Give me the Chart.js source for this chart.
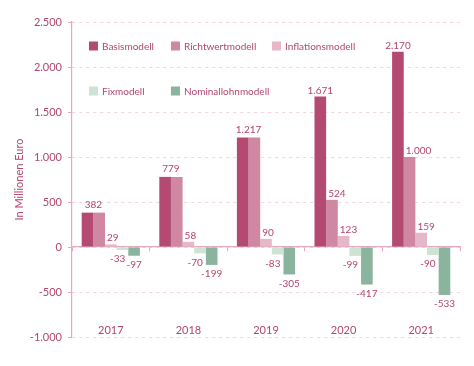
<!DOCTYPE html>
<html>
<head>
<meta charset="utf-8">
<script src="https://cdn.jsdelivr.net/npm/chart.js@4.4.1/dist/chart.umd.min.js"></script>
<style>
  html, body { margin: 0; padding: 0; background: #ffffff; }
  #wrap { width: 474px; height: 366px; position: relative; }
</style>
</head>
<body>
<div id="wrap"><canvas id="c" width="474" height="366"></canvas></div>
<script>
const categories = ['2017', '2018', '2019', '2020', '2021'];
const seriesNames = ['Basismodell', 'Richtwertmodell', 'Inflationsmodell', 'Fixmodell', 'Nominallohnmodell'];
const basismodell = [382, 779, 1217, 1671, 2170];
const richtwertmodell = [382, 779, 1217, 524, 1000];
const inflationsmodell = [29, 58, 90, 123, 159];
const fixmodell = [-33, -70, -83, -99, -90];
const nominallohnmodell = [-97, -199, -305, -417, -533];
const yTicks = [-1000, -500, 0, 500, 1000, 1500, 2000, 2500];

const seriesColors = ['#b44a72', '#d088a2', '#e6b7c8', '#cde3d6', '#8bb49e'];
const textColor = '#b2466f';
const axisColor = '#e4a9bd';
const gridColor = '#f3d3de';
const FONT = 'Lato, "Open Sans", sans-serif';

function fmt(v) {
  const neg = v < 0;
  let s = String(Math.abs(Math.round(v)));
  s = s.replace(/\B(?=(\d{3})+(?!\d))/g, '.');
  return (neg ? '-' : '') + s;
}

const seriesValues = [basismodell, richtwertmodell, inflationsmodell, fixmodell, nominallohnmodell];

const datasets = seriesNames.map((name, i) => ({
  label: name,
  data: seriesValues[i],
  backgroundColor: seriesColors[i],
  borderWidth: 0,
  xAxisID: 'x',
  yAxisID: 'y',
  categoryPercentage: 0.75,
  barPercentage: 1.0
}));

const valueLabels = {
  id: 'valueLabels',
  afterDatasetsDraw(chart) {
    const ctx = chart.ctx;
    ctx.save();
    ctx.font = '10px ' + FONT;
    ctx.fillStyle = textColor;
    chart.data.datasets.forEach((ds, di) => {
      const meta = chart.getDatasetMeta(di);
      meta.data.forEach((bar, j) => {
        const v = ds.data[j];
        const half = bar.width / 2;
        // Basis & Richtwert equal -> single label centered over both
        if (di === 1 && chart.data.datasets[0].data[j] === v) return;
        let x = bar.x;
        let lift = 3;
        ctx.textAlign = 'center';
        if (di === 0 && chart.data.datasets[1].data[j] === v) {
          x = (bar.x + chart.getDatasetMeta(1).data[j].x) / 2;
          lift = 4.5;
        } else if (v >= 0 && (di === 1 || di === 2)) {
          ctx.textAlign = 'left';
          x = bar.x - half + 2;
        } else if (v < 0 && di === 3) {
          ctx.textAlign = 'right';
          x = bar.x + half - 3;
        }
        if (v >= 0) {
          ctx.textBaseline = 'alphabetic';
          ctx.fillText(fmt(v), x, bar.y - lift);
        } else {
          ctx.textBaseline = 'top';
          ctx.fillText(fmt(v), x, bar.y + 4);
        }
      });
    });
    ctx.restore();
  }
};

const customLegend = {
  id: 'customLegend',
  afterDraw(chart) {
    const ctx = chart.ctx;
    const a = chart.chartArea;
    const pos = [
      [17, 24], [99, 24], [200, 24],
      [17, 69], [99, 69]
    ];
    ctx.save();
    ctx.font = '10px ' + FONT;
    ctx.textBaseline = 'middle';
    ctx.textAlign = 'left';
    chart.data.datasets.forEach((ds, i) => {
      const x = a.left + pos[i][0];
      const y = a.top + pos[i][1];
      ctx.fillStyle = ds.backgroundColor;
      ctx.fillRect(x, y - 4.5, 9, 9);
      ctx.fillStyle = textColor;
      ctx.fillText(ds.label, x + 13, y + 0.5);
    });
    ctx.restore();
  }
};

new Chart(document.getElementById('c'), {
  type: 'bar',
  data: { labels: categories, datasets: datasets },
  plugins: [valueLabels, customLegend],
  options: {
    responsive: false,
    animation: false,
    devicePixelRatio: 1,
    layout: { padding: { left: 0, right: 14, top: 22, bottom: 29 } },
    plugins: {
      legend: { display: false },
      tooltip: { enabled: false }
    },
    scales: {
      x: {
        type: 'category',
        position: { y: -770 },
        grid: { display: false },
        border: { display: false },
        ticks: { color: textColor, font: { family: FONT, size: 11 }, padding: 0 }
      },
      xz: {
        type: 'category',
        position: { y: 0 },
        offset: true,
        grid: { display: true, offset: true, drawOnChartArea: false, drawTicks: true, tickLength: 4, color: axisColor, lineWidth: 1 },
        border: { display: true, color: axisColor, width: 1.2 },
        ticks: { display: false }
      },
      y: {
        type: 'linear',
        min: -1000,
        max: 2500,
        afterFit(scale) { scale.width = 72; },
        afterBuildTicks(scale) { scale.ticks = yTicks.map(v => ({ value: v })); },
        ticks: {
          color: textColor,
          font: { family: FONT, size: 11 },
          padding: 6,
          callback: (v) => fmt(v)
        },
        grid: {
          color: gridColor,
          lineWidth: 1,
          drawTicks: true,
          tickLength: 4,
          tickColor: axisColor,
          tickBorderDash: []
        },
        border: { display: true, color: axisColor, width: 1.2, dash: [3, 4] },
        title: {
          display: true,
          text: 'In Millionen Euro',
          color: textColor,
          font: { family: FONT, size: 11 },
          padding: { top: 13, bottom: 0 }
        }
      }
    }
  }
});
</script>
</body>
</html>
